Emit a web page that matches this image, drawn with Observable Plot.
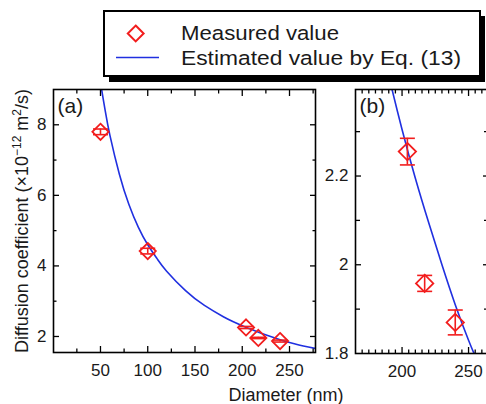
<!DOCTYPE html>
<html><head><meta charset="utf-8">
<script src="https://cdn.jsdelivr.net/npm/d3@7"></script>
<script src="https://cdn.jsdelivr.net/npm/@observablehq/plot@0.6"></script>
<style>
html,body{margin:0;padding:0;background:#fff;}
#wrap{position:relative;width:486px;height:404px;overflow:hidden;font-family:"Liberation Sans",Arial,Helvetica,sans-serif;}
#wrap svg{position:absolute;}
</style></head><body><div id="wrap"></div>
<script>
// Measured data
const diameters = [50, 100, 204, 217, 240];
const measured = [7.8, 4.42, 2.255, 1.958, 1.87];
const errors = [0.08, 0.08, 0.03, 0.018, 0.028];
// Estimated curve (Eq. 13)
const curveDiameters = [48, 50, 55, 60, 70, 80, 90, 100, 110, 120, 140, 160, 180, 190, 200, 210, 220, 230, 240, 250, 260, 270, 280];
const curveValues = [9.6, 9.2, 8.4, 7.7, 6.6, 5.75, 5.1, 4.6, 4.2, 3.85, 3.3, 2.88, 2.56, 2.425, 2.305, 2.195, 2.095, 2.0, 1.91, 1.83, 1.76, 1.7, 1.645];
// Axis ticks
const aXLabels = [50, 100, 150, 200, 250];
const aXMinor = [25, 75, 125, 175, 225, 275];
const aYLabels = [2, 4, 6, 8];
const aYMinor = [3, 5, 7];
const bXLabels = [200, 250];
const bXMinor = [170, 175, 180, 185, 190, 195, 205, 210, 215, 220, 225, 230, 235, 240, 245, 255, 260];
const bYLabels = [1.8, 2, 2.2];
const bYMinor = [1.9, 2.1, 2.3];
const legendLabels = ["Measured value", "Estimated value by Eq. (13)"];

const fontFam = '"Liberation Sans", Arial, Helvetica, sans-serif';
const red = "#f21d1d", blue = "#2030e0";
const pts = diameters.map((d, i) => ({d, v: measured[i], e: errors[i]}));
const curve = curveDiameters.map((d, i) => ({d, v: curveValues[i]}));
const capSymbol = {draw(ctx) { ctx.moveTo(-7.5, 0); ctx.lineTo(7.5, 0); }};

function panel(o) {
  const tickOnly = {tickFormat: () => "", label: null, stroke: "#000", strokeWidth: 1.3};
  return Plot.plot({
    width: o.width, height: o.height,
    marginLeft: o.ml, marginRight: o.mr, marginTop: o.mt, marginBottom: o.mb,
    style: {fontFamily: fontFam, fontSize: "17px", background: "none", color: "#111", overflow: "visible"},
    x: {domain: o.xDomain, label: null},
    y: {domain: o.yDomain, label: null},
    marks: [
      Plot.line(curve, {x: "d", y: "v", stroke: blue, strokeWidth: 1.6, curve: "natural", clip: true}),
      Plot.ruleX(pts, {x: "d", y1: p => p.v - p.e, y2: p => p.v + p.e, stroke: red, strokeWidth: 1.6}),
      Plot.dot(pts, {x: "d", y: p => p.v + p.e, symbol: capSymbol, stroke: red, strokeWidth: 1.6, fill: "none"}),
      Plot.dot(pts, {x: "d", y: p => p.v - p.e, symbol: capSymbol, stroke: red, strokeWidth: 1.6, fill: "none"}),
      Plot.dot(pts, {x: "d", y: "v", symbol: "diamond2", r: o.r, stroke: red, strokeWidth: 1.8, fill: "none"}),
      Plot.frame({stroke: "#000", strokeWidth: 1.6}),
      Plot.axisX({...tickOnly, ticks: o.xMajor, anchor: "bottom", tickSize: -6}),
      Plot.axisX({...tickOnly, ticks: o.xMinor, anchor: "bottom", tickSize: -3.5}),
      Plot.axisX({...tickOnly, ticks: o.xMajor, anchor: "top", tickSize: -6}),
      Plot.axisX({...tickOnly, ticks: o.xMinor, anchor: "top", tickSize: -3.5}),
      Plot.axisY({...tickOnly, ticks: o.yMajor, anchor: "left", tickSize: -6}),
      Plot.axisY({...tickOnly, ticks: o.yMinor, anchor: "left", tickSize: o.yMinorSize}),
      Plot.axisY({...tickOnly, ticks: o.yMajor, anchor: "right", tickSize: -6}),
      Plot.axisY({...tickOnly, ticks: o.yMinor, anchor: "right", tickSize: o.yMinorSize}),
      Plot.axisX({ticks: o.xLabels, anchor: "bottom", tickSize: 0, tickPadding: 11, label: null, fill: "#1a1a1a"}),
      Plot.axisY({ticks: o.yLabels, anchor: "left", tickSize: 0, tickPadding: 7, label: null, fill: "#1a1a1a", tickFormat: d => String(d)}),
      Plot.text([o.tag], {text: d => d, frameAnchor: "top-left", dx: 4, dy: 9, textAnchor: "start", lineAnchor: "top", fontSize: 21, fill: "#1a1a1a"})
    ]
  });
}

const wrap = document.getElementById("wrap");

const plotA = panel({width: 340, height: 404, ml: 53, mr: 25, mt: 89, mb: 52,
  xDomain: [0.3, 277.5], yDomain: [1.546, 9.0],
  xMajor: aXLabels, xMinor: aXMinor, xLabels: aXLabels,
  yMajor: aYLabels, yMinor: aYMinor, yLabels: aYLabels, yMinorSize: -3.5, tag: "(a)", r: 7.3});
plotA.style.left = "0px"; plotA.style.top = "0px";
wrap.appendChild(plotA);

const plotB = panel({width: 200, height: 404, ml: 55, mr: 12, mt: 89, mb: 51,
  xDomain: [165, 265], yDomain: [1.8, 2.395],
  xMajor: bXLabels, xMinor: bXMinor, xLabels: bXLabels,
  yMajor: [2, 2.2], yMinor: bYMinor, yLabels: bYLabels, yMinorSize: -5, tag: "(b)", r: 7.8});
plotB.style.left = "300px"; plotB.style.top = "0px";
wrap.appendChild(plotB);

// Overlay: legend and axis titles
const ov = d3.select(wrap).append("svg")
  .attr("width", 486).attr("height", 404)
  .style("left", "0px").style("top", "0px")
  .style("font-family", fontFam);

ov.append("rect").attr("x", 109).attr("y", 16).attr("width", 376).attr("height", 66).attr("fill", "#000");
ov.append("rect").attr("x", 104).attr("y", 11).attr("width", 376).attr("height", 65)
  .attr("fill", "#fff").attr("stroke", "#000").attr("stroke-width", 2);
ov.append("path").attr("d", d3.symbol(d3.symbolDiamond2, 160)())
  .attr("transform", "translate(135.7,33.5)")
  .attr("fill", "none").attr("stroke", red).attr("stroke-width", 2);
ov.append("line").attr("x1", 116).attr("x2", 159).attr("y1", 57.5).attr("y2", 57.5)
  .attr("stroke", blue).attr("stroke-width", 1.5);
ov.append("text").attr("x", 181).attr("y", 40).attr("font-size", 20.5).attr("fill", "#1a1a1a")
  .attr("textLength", 158).attr("lengthAdjust", "spacingAndGlyphs").text(legendLabels[0]);
ov.append("text").attr("x", 181).attr("y", 64.5).attr("font-size", 20.5).attr("fill", "#1a1a1a")
  .attr("textLength", 280).attr("lengthAdjust", "spacingAndGlyphs").text(legendLabels[1]);

ov.append("text").attr("x", 286).attr("y", 401).attr("font-size", 18).attr("text-anchor", "middle")
  .attr("fill", "#1a1a1a").text("Diameter (nm)");

const yl = ov.append("text").attr("transform", "translate(28,221) rotate(-90)")
  .attr("font-size", 18).attr("text-anchor", "middle").attr("fill", "#1a1a1a");
yl.append("tspan").text("Diffusion coefficient (×10");
yl.append("tspan").attr("dy", -7).attr("font-size", 12).text("−12");
yl.append("tspan").attr("dy", 7).text(" m");
yl.append("tspan").attr("dy", -7).attr("font-size", 12).text("2");
yl.append("tspan").attr("dy", 7).text("/s)");
</script></body></html>
